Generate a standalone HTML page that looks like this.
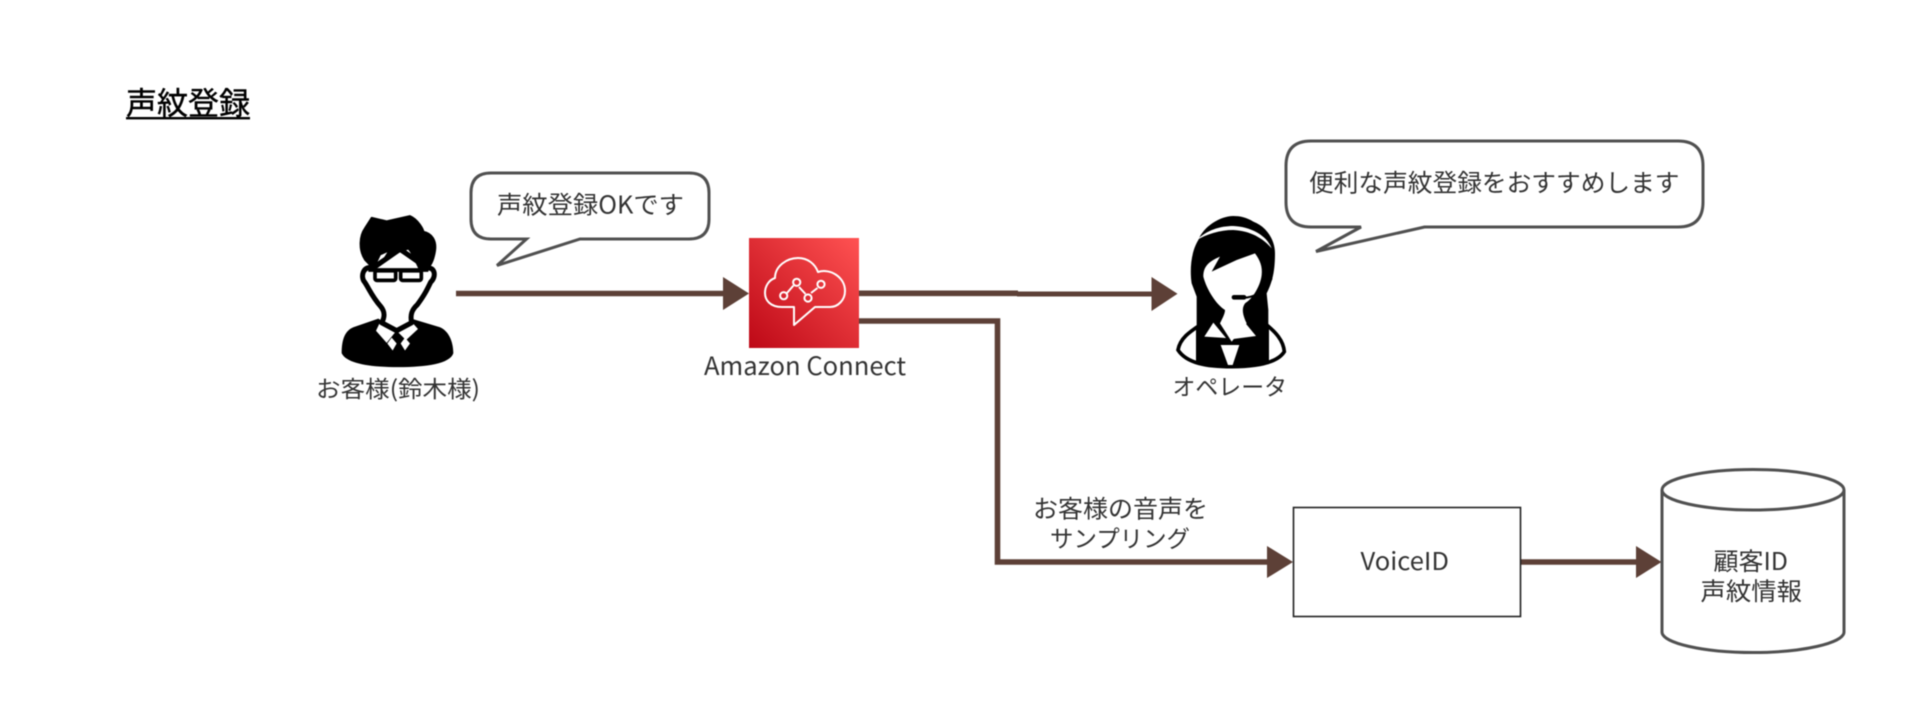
<!DOCTYPE html>
<html lang="ja"><head><meta charset="utf-8"><title>声紋登録</title>
<style>
html,body{margin:0;padding:0;background:#fff;width:1920px;height:725px;overflow:hidden}
svg{display:block;filter:blur(.45px)}
text{font-family:"Noto Sans CJK JP","Liberation Sans",sans-serif;fill:#333;font-size:24.5px;text-anchor:start}
</style></head><body>
<svg width="1920" height="725" viewBox="0 0 1920 725" xmlns="http://www.w3.org/2000/svg">
<defs><linearGradient id="g" x1="0" y1="1" x2="1" y2="0"><stop offset="0" stop-color="#BD0816"/><stop offset="1" stop-color="#FF5252"/></linearGradient></defs>
<rect width="1920" height="725" fill="#fff"/>

<!-- title -->
<text x="126" y="114.5" style="font-size:31px;fill:#000;stroke:#000;stroke-width:.4" textLength="124" lengthAdjust="spacingAndGlyphs">声紋登録</text>
<rect x="126" y="117" width="124" height="2.4" fill="#000"/>

<!-- connectors -->
<g fill="none" stroke="#5D4037" stroke-width="5.6">
<path d="M456 293.5H725"/>
<path d="M859 293.3H1018"/>
<path d="M1017 294H1153" stroke-width="5"/>
<path d="M859 321H997.5V562H1269"/>
<path d="M1521 562H1638"/>
</g>
<g fill="#5D4037">
<path d="M723 277L749 293.5L723 310Z"/>
<path d="M1151.5 277L1177.5 293.7L1151.5 311Z"/>
<path d="M1267 546L1293 562L1267 578Z"/>
<path d="M1636 546L1661.5 562L1636 578Z"/>
</g>

<!-- man -->
<g transform="translate(330 211) scale(.3333 .347)">
<path d="M35 410C35 370 45 345 70 335L145 310L200 345L250 312L330 335C355 345 370 375 370 410C360 440 290 450 205 450C120 450 50 440 35 410Z" fill="#000"/>
<path d="M148 325L195 350L170 380L138 345Z" fill="#fff"/>
<path d="M250 325L205 350L228 372L264 340Z" fill="#fff"/>
<path d="M185 365L200 382L188 402L172 382Z" fill="#fff"/>
<path d="M225 365L240 382L225 402L212 382Z" fill="#fff"/>
<path d="M128 165C100 155 90 190 104 205C118 225 125 245 152 275C165 290 165 305 155 322L200 345L245 322C240 300 245 285 262 270C285 240 292 225 302 205C320 190 315 160 292 165L210 110Z" fill="#fff" stroke="#000" stroke-width="15" stroke-linejoin="round"/>
<path d="M125 20L170 30L240 15C265 25 280 55 280 60C305 65 320 85 315 115C310 145 300 160 290 165L268 165C255 140 245 115 235 108L190 122L165 135L180 112L150 125L130 165L105 140C85 110 90 70 105 50Z" fill="#000" stroke="#000" stroke-width="6" stroke-linejoin="round"/>
<g fill="none" stroke="#000" stroke-width="11" stroke-linejoin="round"><rect x="135" y="172" width="62" height="28" rx="6"/><rect x="212" y="172" width="62" height="28" rx="6"/><path d="M115 170H295"/></g>
</g>
<text x="316" y="397" textLength="164" lengthAdjust="spacingAndGlyphs" style="font-size:23px">お客様(鈴木様)</text>

<!-- bubble 1 -->
<path d="M491 173H689Q709 173 709 193V219Q709 239 689 239H580L497 265.5L526.5 239H491Q471 239 471 219V193Q471 173 491 173Z" fill="#fff" stroke="#505050" stroke-width="3"/>
<text x="497" y="213.5" textLength="187" lengthAdjust="spacingAndGlyphs">声紋登録OKです</text>

<!-- Amazon Connect -->
<rect x="749" y="238" width="110" height="110" fill="url(#g)"/>
<g fill="none" stroke="#fff" stroke-width="2" stroke-linejoin="round">
<path d="M794 325V307H782C770 307 765 300 765 293C765 286 769 280 775 278C775 266 787 258 798 258C808 258 815 264 818 272C830 268 845 277 845 291C845 300 838 307 830 307H815Z"/>
<path d="M787 293L793.5 285.5M799 287L805.5 294M811 293L817.5 288"/>
<circle cx="783.7" cy="295.7" r="3.6"/><circle cx="796.7" cy="282.3" r="3.6"/><circle cx="808" cy="298" r="3.6"/><circle cx="821" cy="284.3" r="3.6"/>
</g>
<text x="704" y="375" textLength="202" lengthAdjust="spacingAndGlyphs" style="font-size:25px">Amazon Connect</text>

<!-- operator -->
<g transform="translate(1170 210) scale(.3333)">
<path d="M24 420C30 385 60 365 90 345L290 345C315 365 340 390 343 425C320 462 250 470 185 470C110 470 50 460 24 420Z" fill="#fff" stroke="#000" stroke-width="11"/>
<path d="M78 350H297V462C250 472 120 472 78 462Z" fill="#000"/>
<path d="M190 18C150 18 100 50 85 90C60 130 60 190 65 220L80 260V400H295V300L290 250C305 220 315 190 315 130C315 90 290 50 250 35C230 22 210 18 190 18Z" fill="#000"/>
<path d="M78 92C110 60 150 48 190 48C240 50 290 75 305 115C280 85 240 62 190 60C150 60 110 72 78 92Z" fill="#fff"/>
<path d="M100 200C100 170 115 155 150 140L125 185L200 150L255 130C270 150 278 170 275 195C272 225 250 265 225 280C214 295 218 315 230 340L185 395L150 340C160 320 165 310 165 300C140 285 110 240 100 200Z" fill="#fff"/>
<path d="M103 380L130 338L168 384Z" fill="#fff"/>
<path d="M190 387L225 338L258 378Z" fill="#fff"/>
<path d="M152 405H208L188 465H174Z" fill="#fff"/>
<path d="M192 262C225 268 280 262 305 205" fill="none" stroke="#000" stroke-width="6"/>
<path d="M192 262H222" fill="none" stroke="#000" stroke-width="14" stroke-linecap="round"/>
</g>
<text x="1172.5" y="395" textLength="114.5" lengthAdjust="spacingAndGlyphs" style="font-size:23px">オペレータ</text>

<!-- bubble 2 -->
<path d="M1311 141H1678Q1703 141 1703 166V202Q1703 227 1678 227H1424.5L1316 251.5L1361 227H1311Q1286 227 1286 202V166Q1286 141 1311 141Z" fill="#fff" stroke="#505050" stroke-width="3"/>
<text x="1309" y="191.5" textLength="370.5" lengthAdjust="spacingAndGlyphs">便利な声紋登録をおすすめします</text>

<!-- sampling label -->
<text x="1033" y="517.5" textLength="175" lengthAdjust="spacingAndGlyphs">お客様の音声を</text>
<text x="1050" y="547" textLength="140" lengthAdjust="spacingAndGlyphs" style="font-size:23.5px">サンプリング</text>

<!-- VoiceID -->
<rect x="1293.5" y="507.5" width="227" height="109" fill="#fff" stroke="#222" stroke-width="1.6"/>
<text x="1360.5" y="570" textLength="88.5" lengthAdjust="spacingAndGlyphs">VoiceID</text>

<!-- cylinder -->
<path d="M1662 490V632C1662 643 1703 652.5 1753 652.5C1803 652.5 1844 643 1844 632V490C1844 479 1803 469.5 1753 469.5C1703 469.5 1662 479 1662 490Z" fill="#fff" stroke="#505050" stroke-width="3"/>
<path d="M1662 490C1662 501 1703 510 1753 510C1803 510 1844 501 1844 490" fill="none" stroke="#505050" stroke-width="3"/>
<text x="1713.5" y="570" textLength="74.5" lengthAdjust="spacingAndGlyphs">顧客ID</text>
<text x="1700.5" y="600" textLength="101.5" lengthAdjust="spacingAndGlyphs">声紋情報</text>
</svg>
</body></html>
